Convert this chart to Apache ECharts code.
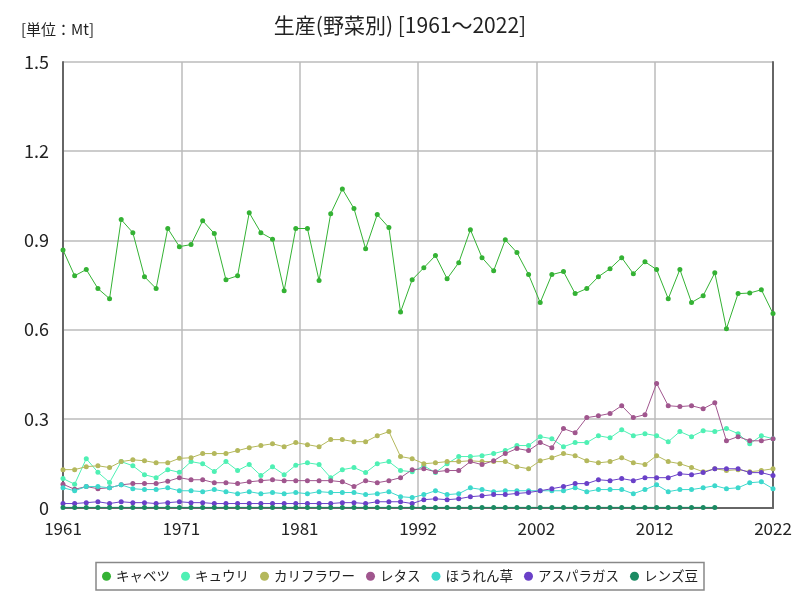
<!DOCTYPE html>
<html>
<head>
<meta charset="utf-8">
<script src="https://cdn.jsdelivr.net/npm/echarts@6/dist/echarts.min.js"></script>
<style>
  html, body { margin: 0; padding: 0; background: #fff; }
  #chart { width: 800px; height: 600px; }
</style>
</head>
<body>
<div id="chart"></div>
<script>
// 年 1961〜2022
const years = [];
for (let y = 1961; y <= 2022; y++) years.push(y);

const names = ["キャベツ", "キュウリ", "カリフラワー", "レタス", "ほうれん草", "アスパラガス", "レンズ豆"];
const colors = ["#34b234", "#4ff0b4", "#b4b85c", "#a0568e", "#3cd8cc", "#6a40c8", "#1a8a62"];

const cabbage = [
  0.868, 0.781, 0.802, 0.738, 0.704, 0.970, 0.926, 0.778, 0.738, 0.940,
  0.879, 0.886, 0.966, 0.923, 0.768, 0.781, 0.993, 0.926, 0.904, 0.731,
  0.940, 0.940, 0.765, 0.990, 1.073, 1.007, 0.872, 0.987, 0.943, 0.659,
  0.768, 0.808, 0.849, 0.771, 0.825, 0.936, 0.842, 0.798, 0.902, 0.859,
  0.785, 0.691, 0.785, 0.795, 0.721, 0.738, 0.778, 0.805, 0.842, 0.788,
  0.828, 0.802, 0.704, 0.802, 0.691, 0.714, 0.791, 0.603, 0.721, 0.723,
  0.734, 0.654
];
const cucumber = [
  0.099, 0.080, 0.166, 0.120, 0.086, 0.156, 0.142, 0.112, 0.102, 0.129,
  0.120, 0.156, 0.149, 0.123, 0.156, 0.126, 0.146, 0.109, 0.139, 0.112,
  0.144, 0.152, 0.146, 0.102, 0.129, 0.136, 0.119, 0.149, 0.156, 0.126,
  0.122, 0.142, 0.119, 0.149, 0.173, 0.173, 0.176, 0.183, 0.193, 0.210,
  0.210, 0.240, 0.233, 0.206, 0.220, 0.220, 0.243, 0.236, 0.263, 0.243,
  0.250, 0.243, 0.223, 0.257, 0.240, 0.260, 0.257, 0.267, 0.250, 0.216,
  0.243, 0.233
];
const cauliflower = [
  0.129, 0.129, 0.139, 0.142, 0.136, 0.156, 0.162, 0.159, 0.152, 0.152,
  0.167, 0.169, 0.183, 0.183, 0.183, 0.193, 0.203, 0.210, 0.216, 0.206,
  0.220, 0.213, 0.206, 0.230, 0.230, 0.223, 0.223, 0.243, 0.257, 0.173,
  0.166, 0.149, 0.152, 0.156, 0.156, 0.159, 0.156, 0.156, 0.156, 0.139,
  0.132, 0.159, 0.169, 0.183, 0.176, 0.159, 0.152, 0.156, 0.169, 0.152,
  0.146, 0.176, 0.156, 0.149, 0.136, 0.122, 0.132, 0.126, 0.129, 0.122,
  0.126, 0.132
];
const lettuce = [
  0.080, 0.063, 0.072, 0.065, 0.068, 0.078, 0.082, 0.082, 0.082, 0.090,
  0.102, 0.095, 0.095, 0.085, 0.085, 0.082, 0.088, 0.092, 0.095, 0.092,
  0.092, 0.092, 0.092, 0.092, 0.088, 0.072, 0.092, 0.085, 0.092, 0.102,
  0.129, 0.132, 0.122, 0.126, 0.126, 0.156, 0.146, 0.159, 0.183, 0.200,
  0.193, 0.220, 0.203, 0.267, 0.253, 0.304, 0.310, 0.318, 0.344, 0.304,
  0.314, 0.419, 0.344, 0.341, 0.344, 0.334, 0.354, 0.226, 0.240, 0.226,
  0.226, 0.233
];
const spinach = [
  0.068, 0.058, 0.072, 0.072, 0.068, 0.078, 0.065, 0.062, 0.062, 0.068,
  0.058, 0.058, 0.055, 0.062, 0.055, 0.048, 0.055, 0.048, 0.052, 0.048,
  0.052, 0.048, 0.055, 0.052, 0.052, 0.052, 0.045, 0.048, 0.055, 0.038,
  0.035, 0.045, 0.058, 0.045, 0.048, 0.068, 0.062, 0.055, 0.058, 0.058,
  0.058, 0.058, 0.058, 0.058, 0.068, 0.055, 0.062, 0.062, 0.062, 0.048,
  0.062, 0.078, 0.055, 0.062, 0.062, 0.068, 0.075, 0.065, 0.068, 0.085,
  0.088, 0.065
];
const asparagus = [
  0.015, 0.015, 0.018, 0.021, 0.015, 0.021, 0.018, 0.018, 0.015, 0.018,
  0.021, 0.018, 0.018, 0.015, 0.015, 0.015, 0.015, 0.015, 0.015, 0.015,
  0.015, 0.015, 0.015, 0.015, 0.018, 0.018, 0.015, 0.021, 0.021, 0.021,
  0.015, 0.028, 0.031, 0.028, 0.031, 0.038, 0.041, 0.045, 0.045, 0.049,
  0.052, 0.058, 0.065, 0.072, 0.082, 0.082, 0.095, 0.092, 0.099, 0.092,
  0.102, 0.102, 0.102, 0.115, 0.112, 0.119, 0.132, 0.132, 0.132, 0.119,
  0.119, 0.109
];
// 1961〜2017 のみ
const lentil = [
  0.002, 0.002, 0.002, 0.002, 0.002, 0.002, 0.002, 0.002, 0.002, 0.002,
  0.002, 0.002, 0.002, 0.002, 0.002, 0.002, 0.002, 0.002, 0.002, 0.002,
  0.002, 0.002, 0.002, 0.002, 0.002, 0.002, 0.002, 0.002, 0.002, 0.002,
  0.002, 0.002, 0.002, 0.002, 0.002, 0.002, 0.002, 0.002, 0.002, 0.002,
  0.002, 0.002, 0.002, 0.002, 0.002, 0.002, 0.002, 0.002, 0.002, 0.002,
  0.002, 0.002, 0.002, 0.002, 0.002, 0.002, 0.002
];

const allValues = [cabbage, cucumber, cauliflower, lettuce, spinach, asparagus, lentil];
const firstYear = years[0];
const span = years[years.length - 1] - firstYear;

const font = "'Noto Sans CJK JP', sans-serif";

let myChart = echarts.init(document.getElementById("chart"));
myChart.setOption({
  animation: false,
  color: colors,
  title: [
    {
      text: "生産(野菜別) [1961～2022]",
      left: "center",
      top: 10,
      textStyle: { fontSize: 21, fontWeight: "normal", color: "#222", fontFamily: font }
    },
    {
      text: "[単位：Mt]",
      left: 16,
      top: 17,
      textStyle: { fontSize: 15, fontWeight: "normal", color: "#222", fontFamily: font }
    }
  ],
  legend: {
    bottom: 10,
    left: "center",
    itemWidth: 9,
    itemHeight: 9,
    itemGap: 11,
    icon: "circle",
    borderColor: "#888",
    borderWidth: 1.5,
    borderRadius: 0,
    padding: [7, 6],
    textStyle: { fontSize: 13.5, color: "#222", fontFamily: font },
    data: names
  },
  grid: { left: 63, right: 27, top: 62, bottom: 92 },
  xAxis: {
    type: "value",
    min: 0,
    max: span,
    interval: span / 6,
    axisLine: { show: true, lineStyle: { color: "#666", width: 2 } },
    axisTick: { show: false },
    splitLine: { show: true, lineStyle: { color: "#bbb", width: 1.5 } },
    axisLabel: {
      fontSize: 17,
      color: "#222",
      margin: 12,
      fontFamily: font,
      formatter: v => String(Math.round(firstYear + v))
    }
  },
  yAxis: [
    {
      type: "value",
      min: 0,
      max: 1.5,
      interval: 0.3,
      axisLine: { show: true, lineStyle: { color: "#666", width: 2 } },
      axisTick: { show: false },
      splitLine: { show: true, lineStyle: { color: "#bbb", width: 1.5 } },
      axisLabel: {
        fontSize: 18,
        color: "#222",
        margin: 14,
        fontFamily: font,
        formatter: v => (v === 0 ? "0" : v.toFixed(1))
      }
    },
    {
      type: "value",
      position: "right",
      min: 0,
      max: 1.5,
      interval: 0.3,
      axisLine: { show: true, lineStyle: { color: "#666", width: 2 } },
      axisTick: { show: false },
      axisLabel: { show: false },
      splitLine: { show: false }
    }
  ],
  series: names.map((name, k) => ({
    name: name,
    type: "line",
    symbol: "circle",
    symbolSize: 5,
    lineStyle: { width: 1 },
    data: allValues[k].map((v, i) => [years[i] - firstYear, v])
  }))
});
</script>
</body>
</html>
